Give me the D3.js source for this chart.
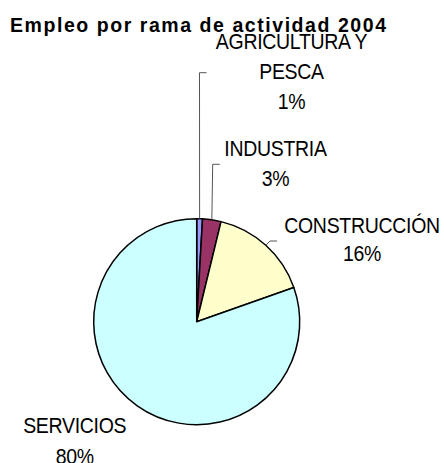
<!DOCTYPE html>
<html>
<head>
	<meta charset="utf-8">
	<script src="https://d3js.org/d3.v7.min.js"></script>
	<style>
		body { margin: 0; background: #fff; }
		text { font-family: "Liberation Sans", Arial, sans-serif; fill: #000; }
	</style>
</head>
<body>
	<script type="text/javascript">

		// data
		var title = "Empleo por rama de actividad 2004"
		var categories = ["AGRICULTURA Y PESCA", "INDUSTRIA", "CONSTRUCCIÓN", "SERVICIOS"]
		var values = [0.9, 2.9, 15.8, 80.4]
		var colors = ["#9999FF", "#993366", "#FFFFCC", "#CCFFFF"]

		// label layout (Excel put these by hand), name lines + where the text sits
		var labelLines = [["AGRICULTURA Y", "PESCA"], ["INDUSTRIA"], ["CONSTRUCCIÓN"], ["SERVICIOS"]]
		var labelX = [291.5, 275.5, 362, 74.7]
		var labelY = [49, 156, 233, 433.3]
		var labelGap = [30.2, 30, 28, 31]
		// elbow of the leader line, null = no leader
		var elbows = [[199.5, 72.7], [212.7, 164.3], [270, 241], null]

		var width = 444, height = 463
		var cx = 196.7, cy = 321.7, r = 103

		var svg = d3.select("body").append("svg")
			.attr("width", width)
			.attr("height", height)

		svg.append("rect")
			.attr("width", width)
			.attr("height", height)
			.attr("fill", "#fff")

		// title, Excel spreads the letters out
		svg.append("text")
			.attr("x", 10)
			.attr("y", 32.3)
			.attr("font-size", 19.5)
			.attr("font-weight", "bold")
			.attr("textLength", 376)
			.attr("lengthAdjust", "spacing")
			.text(title)

		var pie = d3.pie().sort(null).value(function (d) { return d })
		var arcs = pie(values)
		var total = d3.sum(values)
		var pct = d3.format(".0%")

		var arc = d3.arc().innerRadius(0).outerRadius(r)

		var g = svg.append("g").attr("transform", "translate(" + cx + "," + cy + ")")

		g.selectAll("path.slice")
			.data(arcs)
			.enter()
			.append("path")
			.attr("class", "slice")
			.attr("d", arc)
			.attr("fill", function (d, i) { return colors[i] })
			.attr("stroke", "#000")
			.attr("stroke-width", 1.5)
			.attr("stroke-linejoin", "round")

		// leader lines: from the rim at the slice middle, up to the elbow, then a short tick right
		arcs.forEach(function (d, i) {
			if (!elbows[i]) return
			var mid = (d.startAngle + d.endAngle) / 2
			var x0 = cx + r * Math.sin(mid)
			var y0 = cy - r * Math.cos(mid)
			var e = elbows[i]
			svg.append("polyline")
				.attr("points", [[x0, y0], e, [e[0] + 7, e[1]]].map(function (p) { return p.join(",") }).join(" "))
				.attr("fill", "none")
				.attr("stroke", "#555")
				.attr("stroke-width", 1)
		})

		// labels: name lines then the percentage, a bit stretched up like Excel draws them
		arcs.forEach(function (d, i) {
			var lines = labelLines[i].concat([pct(d.value / total)])
			lines.forEach(function (s, k) {
				svg.append("text")
					.attr("transform", "translate(" + labelX[i] + "," + (labelY[i] + k * labelGap[i]) + ") scale(1,1.15)")
					.attr("text-anchor", "middle")
					.attr("font-size", 19.5)
					.attr("letter-spacing", -0.3)
					.text(s)
			})
		})

	</script>
</body>
</html>
